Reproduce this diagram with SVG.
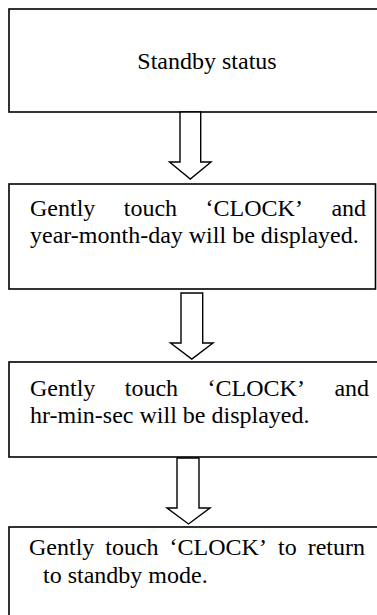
<svg xmlns="http://www.w3.org/2000/svg" width="377" height="615" viewBox="0 0 377 615">
<style>
.box{fill:#fff;stroke:#000;stroke-width:1.6}
.arrow{fill:#fff;stroke:#000;stroke-width:1.4;stroke-linejoin:miter}
text{font-family:"Liberation Serif","Times New Roman",serif;font-size:24px;fill:#000}
</style>
<rect width="377" height="615" fill="#fff"/>
<g id="node-standby">
<rect class="box" x="9" y="9" width="372" height="103"/>
<text x="207" y="69" text-anchor="middle">Standby status</text>
</g>
<g id="node-date">
<rect class="box" x="9" y="184" width="366.5" height="105"/>
<text y="216"><tspan x="30">Gently</tspan><tspan x="123.8">touch</tspan><tspan x="205.6">‘CLOCK’</tspan><tspan x="331.4">and</tspan></text>
<text x="30" y="243">year-month-day will be displayed.</text>
</g>
<g id="node-time">
<rect class="box" x="9" y="362" width="372" height="95"/>
<text y="396"><tspan x="30">Gently</tspan><tspan x="124.8">touch</tspan><tspan x="207.6">‘CLOCK’</tspan><tspan x="334.4">and</tspan></text>
<text x="30" y="423">hr-min-sec will be displayed.</text>
</g>
<g id="node-return">
<rect class="box" x="9" y="527" width="372" height="100"/>
<text y="555"><tspan x="29">Gently</tspan><tspan x="105.3">touch</tspan><tspan x="169.6">‘CLOCK’</tspan><tspan x="278">to</tspan><tspan x="307.7">return</tspan></text>
<text x="43" y="583">to standby mode.</text>
</g>
<g id="connectors">
<polygon class="arrow" points="180,112 200.7,112 200.7,162 211,162 190.3,179 169.5,162 180,162"/>
<polygon class="arrow" points="181,293 202.7,293 202.7,343 213,343 191.8,359 170.5,343 181,343"/>
<polygon class="arrow" points="177,458 199,458 199,508 210,508 188.5,524 167,508 177,508"/>
</g>
</svg>
